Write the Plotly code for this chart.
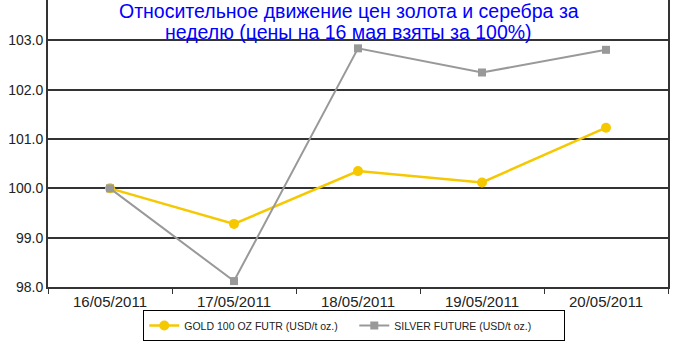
import plotly.graph_objects as go

dates = ["16/05/2011", "17/05/2011", "18/05/2011", "19/05/2011", "20/05/2011"]
gold = [100.0, 99.28, 100.35, 100.12, 101.23]
silver = [100.0, 98.12, 102.84, 102.35, 102.81]
ytick_vals = [98.0, 99.0, 100.0, 101.0, 102.0, 103.0]
ytick_text = ["98.0", "99.0", "100.0", "101.0", "102.0", "103.0"]
title_lines = ["Относительное движение цен золота и серебра за",
               "неделю (цены на 16 мая взяты за 100%)"]

fig = go.Figure()
fig.add_trace(go.Scatter(
    x=dates, y=gold, name="GOLD 100 OZ FUTR (USD/t oz.)",
    mode="lines+markers", line=dict(color="#F5C800", width=2.5),
    marker=dict(symbol="circle", size=10, color="#F5C800")))
fig.add_trace(go.Scatter(
    x=dates, y=silver, name="SILVER FUTURE (USD/t oz.)",
    mode="lines+markers", line=dict(color="#999999", width=2),
    marker=dict(symbol="square", size=8, color="#999999")))

for i, line in enumerate(title_lines):
    fig.add_annotation(
        text=line, xref="paper", yref="paper",
        x=0.485, xanchor="center", y=1.008 - i * 0.074, yanchor="top",
        showarrow=False,
        font=dict(size=19.5, color="#0000FF", family="Arial, Liberation Sans, sans-serif"))

fig.update_layout(
    width=676, height=341,
    margin=dict(l=48, r=8, t=0, b=54),
    paper_bgcolor="white", plot_bgcolor="white",
    font=dict(family="Arial, Liberation Sans, sans-serif", color="#222"),
    showlegend=True,
    legend=dict(orientation="h", x=0.494, xanchor="center", y=-0.188, yanchor="bottom",
                bordercolor="#000", borderwidth=1, font=dict(size=10.5, color="#222"),
                bgcolor="white", itemwidth=30, entrywidth=165, entrywidthmode="pixels"),
)
fig.update_xaxes(
    type="category", tickson="boundaries", ticks="outside", ticklen=5,
    tickcolor="#333", showline=True, linecolor="#333", linewidth=2,
    showgrid=False, tickfont=dict(size=15, color="#222"), mirror=False,
    range=[-0.5, 4.5])
fig.update_yaxes(
    range=[98.0, 103.82], tickvals=ytick_vals, ticktext=ytick_text,
    showgrid=True, gridcolor="#333", gridwidth=1.5,
    showline=True, linecolor="#333", linewidth=2, mirror=True,
    tickfont=dict(size=14, color="#222"), zeroline=False, ticks="")

fig.write_html("out.html")
